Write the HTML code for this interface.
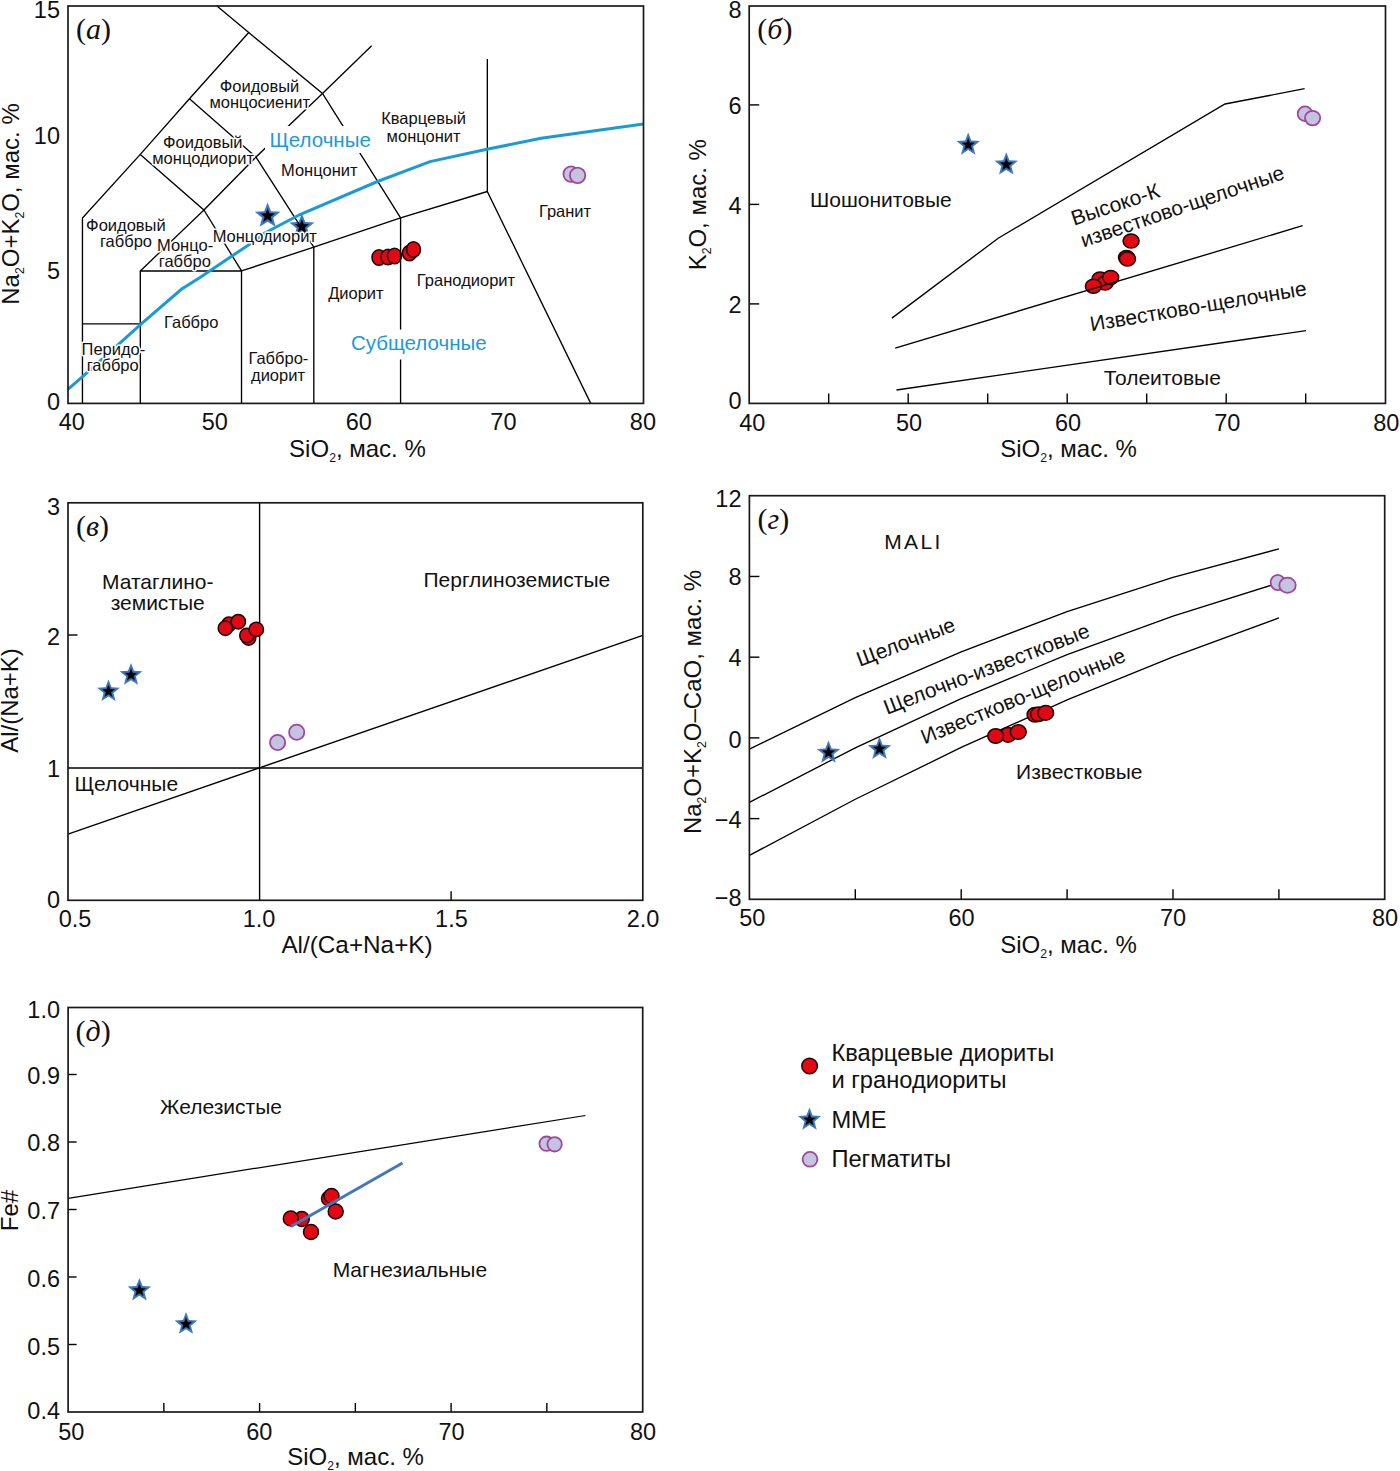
<!DOCTYPE html>
<html><head><meta charset="utf-8"><style>
html,body{margin:0;padding:0;background:#fff;}
svg{display:block;}
</style></head><body>
<svg width="1400" height="1471" viewBox="0 0 1400 1471">
<rect width="1400" height="1471" fill="#fff"/>
<polygon points="267.60,202.40 271.01,211.20 280.44,211.73 273.12,217.69 275.54,226.82 267.60,221.71 259.66,226.82 262.08,217.69 254.76,211.73 264.19,211.20" fill="#4078be"/>
<polygon points="267.60,207.53 269.72,212.99 275.56,213.31 271.02,217.01 272.52,222.67 267.60,219.50 262.68,222.67 264.18,217.01 259.64,213.31 265.48,212.99" fill="#22426f"/>
<polygon points="267.60,209.15 269.31,213.55 274.02,213.81 270.36,216.80 271.57,221.36 267.60,218.80 263.63,221.36 264.84,216.80 261.18,213.81 265.89,213.55" fill="#000"/>
<polygon points="301.90,213.40 305.24,222.01 314.45,222.52 307.30,228.35 309.66,237.28 301.90,232.28 294.14,237.28 296.50,228.35 289.35,222.52 298.56,222.01" fill="#4078be"/>
<polygon points="301.90,218.42 303.97,223.75 309.68,224.07 305.25,227.69 306.71,233.22 301.90,230.12 297.09,233.22 298.55,227.69 294.12,224.07 299.83,223.75" fill="#22426f"/>
<polygon points="301.90,220.00 303.57,224.30 308.18,224.56 304.60,227.48 305.78,231.94 301.90,229.44 298.02,231.94 299.20,227.48 295.62,224.56 300.23,224.30" fill="#000"/>
<ellipse cx="379.00" cy="257.50" rx="7.0" ry="7.7" fill="#e30613" stroke="#1c0404" stroke-width="1.5"/>
<ellipse cx="388.00" cy="257.00" rx="7.0" ry="7.7" fill="#e30613" stroke="#1c0404" stroke-width="1.5"/>
<ellipse cx="394.50" cy="256.00" rx="7.0" ry="7.7" fill="#e30613" stroke="#1c0404" stroke-width="1.5"/>
<ellipse cx="409.50" cy="253.00" rx="7.0" ry="7.7" fill="#e30613" stroke="#1c0404" stroke-width="1.5"/>
<ellipse cx="413.50" cy="249.50" rx="7.0" ry="7.7" fill="#e30613" stroke="#1c0404" stroke-width="1.5"/>
<ellipse cx="571.10" cy="174.10" rx="7.7" ry="7.7" fill="#c4c3e1" stroke="#a0469c" stroke-width="1.8"/>
<ellipse cx="577.60" cy="175.40" rx="7.7" ry="7.7" fill="#c4c3e1" stroke="#a0469c" stroke-width="1.8"/>
<polyline points="82.46,403.40 82.46,217.97 140.30,154.39 189.46,98.76 248.75,32.54" fill="none" stroke="#000" stroke-width="1.35" stroke-linejoin="miter" />
<polyline points="216.94,6.05 248.75,32.54 322.50,93.47 400.58,217.97" fill="none" stroke="#000" stroke-width="1.35" stroke-linejoin="miter" />
<polyline points="189.46,98.76 255.98,157.04 322.50,93.47 371.66,45.79" fill="none" stroke="#000" stroke-width="1.35" stroke-linejoin="miter" />
<polyline points="140.30,154.39 203.92,210.02 255.98,157.04" fill="none" stroke="#000" stroke-width="1.35" stroke-linejoin="miter" />
<polyline points="82.46,323.93 140.30,323.93" fill="none" stroke="#000" stroke-width="1.35" stroke-linejoin="miter" />
<polyline points="140.30,403.40 140.30,270.95 203.92,210.02 241.52,270.95" fill="none" stroke="#000" stroke-width="1.35" stroke-linejoin="miter" />
<polyline points="140.30,270.95 241.52,270.95 241.52,403.40" fill="none" stroke="#000" stroke-width="1.35" stroke-linejoin="miter" />
<polyline points="241.52,270.95 313.82,247.11 400.58,217.97 487.34,191.48" fill="none" stroke="#000" stroke-width="1.35" stroke-linejoin="miter" />
<polyline points="255.98,157.04 313.82,247.11 313.82,403.40" fill="none" stroke="#000" stroke-width="1.35" stroke-linejoin="miter" />
<polyline points="400.58,217.97 400.58,403.40" fill="none" stroke="#000" stroke-width="1.35" stroke-linejoin="miter" />
<polyline points="487.34,59.03 487.34,191.48 590.73,403.40" fill="none" stroke="#000" stroke-width="1.35" stroke-linejoin="miter" />
<polyline points="67.90,389.30 82.90,376.40 140.70,324.30 181.40,289.30 200.00,277.50 232.00,256.00 259.00,238.00 264.00,233.50 300.00,214.50 377.50,181.50 430.00,161.60 487.00,149.30 541.10,138.30 643.50,124.10" fill="none" stroke="#1a9bd7" stroke-width="3" stroke-linejoin="miter" />
<text x="259.5" y="91.7" font-size="16.5" text-anchor="middle" fill="#111" font-family='"Liberation Sans", sans-serif' stroke="#fff" stroke-width="3" paint-order="stroke" stroke-linejoin="round" >Фоидовый</text>
<text x="259.8" y="108" font-size="16.5" text-anchor="middle" fill="#111" font-family='"Liberation Sans", sans-serif' stroke="#fff" stroke-width="3" paint-order="stroke" stroke-linejoin="round" >монцосиенит</text>
<text x="202.8" y="148" font-size="16.5" text-anchor="middle" fill="#111" font-family='"Liberation Sans", sans-serif' stroke="#fff" stroke-width="3" paint-order="stroke" stroke-linejoin="round" >Фоидовый</text>
<text x="203.1" y="164.3" font-size="16.5" text-anchor="middle" fill="#111" font-family='"Liberation Sans", sans-serif' stroke="#fff" stroke-width="3" paint-order="stroke" stroke-linejoin="round" >монцодиорит</text>
<text x="423.6" y="124" font-size="16.5" text-anchor="middle" fill="#111" font-family='"Liberation Sans", sans-serif' stroke="#fff" stroke-width="3" paint-order="stroke" stroke-linejoin="round" >Кварцевый</text>
<text x="423.6" y="141.8" font-size="16.5" text-anchor="middle" fill="#111" font-family='"Liberation Sans", sans-serif' stroke="#fff" stroke-width="3" paint-order="stroke" stroke-linejoin="round" >монцонит</text>
<text x="319.3" y="175.5" font-size="16.5" text-anchor="middle" fill="#111" font-family='"Liberation Sans", sans-serif' stroke="#fff" stroke-width="3" paint-order="stroke" stroke-linejoin="round" >Монцонит</text>
<text x="125.9" y="230.5" font-size="16.5" text-anchor="middle" fill="#111" font-family='"Liberation Sans", sans-serif' stroke="#fff" stroke-width="3" paint-order="stroke" stroke-linejoin="round" >Фоидовый</text>
<text x="126" y="247.4" font-size="16.5" text-anchor="middle" fill="#111" font-family='"Liberation Sans", sans-serif' stroke="#fff" stroke-width="3" paint-order="stroke" stroke-linejoin="round" >габбро</text>
<text x="185.1" y="250.6" font-size="16.5" text-anchor="middle" fill="#111" font-family='"Liberation Sans", sans-serif' stroke="#fff" stroke-width="3" paint-order="stroke" stroke-linejoin="round" >Монцо-</text>
<text x="184.8" y="267.4" font-size="16.5" text-anchor="middle" fill="#111" font-family='"Liberation Sans", sans-serif' stroke="#fff" stroke-width="3" paint-order="stroke" stroke-linejoin="round" >габбро</text>
<text x="264.8" y="242.4" font-size="16.5" text-anchor="middle" fill="#111" font-family='"Liberation Sans", sans-serif' stroke="#fff" stroke-width="3" paint-order="stroke" stroke-linejoin="round" >Монцодиорит</text>
<text x="565" y="217.4" font-size="16.5" text-anchor="middle" fill="#111" font-family='"Liberation Sans", sans-serif' stroke="#fff" stroke-width="3" paint-order="stroke" stroke-linejoin="round" >Гранит</text>
<text x="466" y="286.4" font-size="16.5" text-anchor="middle" fill="#111" font-family='"Liberation Sans", sans-serif' stroke="#fff" stroke-width="3" paint-order="stroke" stroke-linejoin="round" >Гранодиорит</text>
<text x="355.9" y="299.3" font-size="16.5" text-anchor="middle" fill="#111" font-family='"Liberation Sans", sans-serif' stroke="#fff" stroke-width="3" paint-order="stroke" stroke-linejoin="round" >Диорит</text>
<text x="191.2" y="328.2" font-size="16.5" text-anchor="middle" fill="#111" font-family='"Liberation Sans", sans-serif' stroke="#fff" stroke-width="3" paint-order="stroke" stroke-linejoin="round" >Габбро</text>
<text x="113.4" y="354.8" font-size="16.5" text-anchor="middle" fill="#111" font-family='"Liberation Sans", sans-serif' stroke="#fff" stroke-width="3" paint-order="stroke" stroke-linejoin="round" >Перидо-</text>
<text x="112.7" y="371.1" font-size="16.5" text-anchor="middle" fill="#111" font-family='"Liberation Sans", sans-serif' stroke="#fff" stroke-width="3" paint-order="stroke" stroke-linejoin="round" >габбро</text>
<text x="278.4" y="364" font-size="16.5" text-anchor="middle" fill="#111" font-family='"Liberation Sans", sans-serif' stroke="#fff" stroke-width="3" paint-order="stroke" stroke-linejoin="round" >Габбро-</text>
<text x="278" y="380.8" font-size="16.5" text-anchor="middle" fill="#111" font-family='"Liberation Sans", sans-serif' stroke="#fff" stroke-width="3" paint-order="stroke" stroke-linejoin="round" >диорит</text>
<rect x="265" y="126" width="109" height="27" fill="#fff"/>
<rect x="345" y="329.5" width="147" height="30" fill="#fff"/>
<text x="320.2" y="146.6" font-size="20.5" text-anchor="middle" fill="#1a9bd7" font-family='"Liberation Sans", sans-serif' >Щелочные</text>
<text x="418.8" y="350.4" font-size="20.5" text-anchor="middle" fill="#1a9bd7" font-family='"Liberation Sans", sans-serif' >Субщелочные</text>
<rect x="68" y="6" width="575.50" height="397.40" fill="none" stroke="#1a1a1a" stroke-width="1.7"/>
<text x="60" y="18.2" font-size="23.5" text-anchor="end" fill="#111" font-family='"Liberation Sans", sans-serif' >15</text>
<text x="60" y="143.75" font-size="23.5" text-anchor="end" fill="#111" font-family='"Liberation Sans", sans-serif' >10</text>
<text x="60" y="278.75" font-size="23.5" text-anchor="end" fill="#111" font-family='"Liberation Sans", sans-serif' >5</text>
<text x="60" y="409.5" font-size="23.5" text-anchor="end" fill="#111" font-family='"Liberation Sans", sans-serif' >0</text>
<text x="71.85" y="430.3" font-size="23.5" text-anchor="middle" fill="#111" font-family='"Liberation Sans", sans-serif' >40</text>
<text x="214.7" y="430.3" font-size="23.5" text-anchor="middle" fill="#111" font-family='"Liberation Sans", sans-serif' >50</text>
<text x="358.85" y="430.3" font-size="23.5" text-anchor="middle" fill="#111" font-family='"Liberation Sans", sans-serif' >60</text>
<text x="503.4" y="430.3" font-size="23.5" text-anchor="middle" fill="#111" font-family='"Liberation Sans", sans-serif' >70</text>
<text x="642.9" y="430.3" font-size="23.5" text-anchor="middle" fill="#111" font-family='"Liberation Sans", sans-serif' >80</text>
<text x="357.45" y="456.6" font-size="24" text-anchor="middle" fill="#111" font-family='"Liberation Sans", sans-serif' >SiO<tspan font-size="12.2" dy="5">2</tspan><tspan dy="-5">, мас. %</tspan></text>
<text x="19" y="204" font-size="24" text-anchor="middle" fill="#111" font-family='"Liberation Sans", sans-serif' transform="rotate(-90 19 204)" >Na<tspan font-size="12.2" dy="5">2</tspan><tspan dy="-5">O+K</tspan><tspan font-size="12.2" dy="5">2</tspan><tspan dy="-5">O, мас. %</tspan></text>
<text x="76" y="39" font-size="30" text-anchor="start" fill="#111" font-family='"Liberation Serif", serif' >(<tspan font-style="italic">а</tspan>)</text>
<polygon points="968.20,132.50 971.31,140.52 979.90,141.00 973.23,146.43 975.43,154.75 968.20,150.09 960.97,154.75 963.17,146.43 956.50,141.00 965.09,140.52" fill="#4078be"/>
<polygon points="968.20,137.17 970.13,142.15 975.45,142.44 971.32,145.81 972.68,150.97 968.20,148.08 963.72,150.97 965.08,145.81 960.95,142.44 966.27,142.15" fill="#22426f"/>
<polygon points="968.20,138.65 969.75,142.66 974.05,142.90 970.72,145.62 971.81,149.78 968.20,147.44 964.59,149.78 965.68,145.62 962.35,142.90 966.65,142.66" fill="#000"/>
<polygon points="1006.30,152.30 1009.41,160.32 1018.00,160.80 1011.33,166.23 1013.53,174.55 1006.30,169.89 999.07,174.55 1001.27,166.23 994.60,160.80 1003.19,160.32" fill="#4078be"/>
<polygon points="1006.30,156.97 1008.23,161.95 1013.55,162.24 1009.42,165.61 1010.78,170.77 1006.30,167.88 1001.82,170.77 1003.18,165.61 999.05,162.24 1004.37,161.95" fill="#22426f"/>
<polygon points="1006.30,158.45 1007.85,162.46 1012.15,162.70 1008.82,165.42 1009.91,169.58 1006.30,167.24 1002.69,169.58 1003.78,165.42 1000.45,162.70 1004.75,162.46" fill="#000"/>
<ellipse cx="1131.10" cy="241.10" rx="8.0" ry="7.0" fill="#e30613" stroke="#1c0404" stroke-width="1.5"/>
<ellipse cx="1126.50" cy="257.50" rx="8.0" ry="7.0" fill="#e30613" stroke="#1c0404" stroke-width="1.5"/>
<ellipse cx="1127.50" cy="258.90" rx="8.0" ry="7.0" fill="#e30613" stroke="#1c0404" stroke-width="1.5"/>
<ellipse cx="1100.00" cy="279.00" rx="8.0" ry="7.0" fill="#e30613" stroke="#1c0404" stroke-width="1.5"/>
<ellipse cx="1105.10" cy="283.10" rx="8.0" ry="7.0" fill="#e30613" stroke="#1c0404" stroke-width="1.5"/>
<ellipse cx="1110.70" cy="277.50" rx="8.0" ry="7.0" fill="#e30613" stroke="#1c0404" stroke-width="1.5"/>
<ellipse cx="1093.40" cy="286.20" rx="8.0" ry="7.0" fill="#e30613" stroke="#1c0404" stroke-width="1.5"/>
<ellipse cx="1305.00" cy="113.70" rx="7.3" ry="7.3" fill="#c4c3e1" stroke="#a0469c" stroke-width="1.8"/>
<ellipse cx="1312.60" cy="118.10" rx="7.6" ry="7.3" fill="#c4c3e1" stroke="#a0469c" stroke-width="1.8"/>
<polyline points="828.70,403.40 828.70,393.40" fill="none" stroke="#000" stroke-width="1.4" stroke-linejoin="miter" />
<polyline points="908.20,403.40 908.20,393.40" fill="none" stroke="#000" stroke-width="1.4" stroke-linejoin="miter" />
<polyline points="987.70,403.40 987.70,393.40" fill="none" stroke="#000" stroke-width="1.4" stroke-linejoin="miter" />
<polyline points="1067.20,403.40 1067.20,393.40" fill="none" stroke="#000" stroke-width="1.4" stroke-linejoin="miter" />
<polyline points="1146.70,403.40 1146.70,393.40" fill="none" stroke="#000" stroke-width="1.4" stroke-linejoin="miter" />
<polyline points="1226.20,403.40 1226.20,393.40" fill="none" stroke="#000" stroke-width="1.4" stroke-linejoin="miter" />
<polyline points="1305.70,403.40 1305.70,393.40" fill="none" stroke="#000" stroke-width="1.4" stroke-linejoin="miter" />
<polyline points="749.20,303.90 759.20,303.90" fill="none" stroke="#000" stroke-width="1.4" stroke-linejoin="miter" />
<polyline points="749.20,204.40 759.20,204.40" fill="none" stroke="#000" stroke-width="1.4" stroke-linejoin="miter" />
<polyline points="749.20,104.90 759.20,104.90" fill="none" stroke="#000" stroke-width="1.4" stroke-linejoin="miter" />
<polyline points="896.50,390.00 1306.00,330.60" fill="none" stroke="#000" stroke-width="1.35" stroke-linejoin="miter" />
<polyline points="895.20,348.10 1302.60,225.70" fill="none" stroke="#000" stroke-width="1.35" stroke-linejoin="miter" />
<polyline points="891.90,318.10 998.20,238.20 1225.00,104.00 1304.60,88.70" fill="none" stroke="#000" stroke-width="1.35" stroke-linejoin="miter" />
<rect x="749.2" y="6" width="636.30" height="397.40" fill="none" stroke="#1a1a1a" stroke-width="1.7"/>
<text x="741.5" y="17.8" font-size="23.5" text-anchor="end" fill="#111" font-family='"Liberation Sans", sans-serif' >8</text>
<text x="741.5" y="113.7" font-size="23.5" text-anchor="end" fill="#111" font-family='"Liberation Sans", sans-serif' >6</text>
<text x="741.5" y="213.9" font-size="23.5" text-anchor="end" fill="#111" font-family='"Liberation Sans", sans-serif' >4</text>
<text x="741.5" y="313" font-size="23.5" text-anchor="end" fill="#111" font-family='"Liberation Sans", sans-serif' >2</text>
<text x="741.5" y="408.6" font-size="23.5" text-anchor="end" fill="#111" font-family='"Liberation Sans", sans-serif' >0</text>
<text x="752.3" y="431" font-size="23.5" text-anchor="middle" fill="#111" font-family='"Liberation Sans", sans-serif' >40</text>
<text x="909" y="431" font-size="23.5" text-anchor="middle" fill="#111" font-family='"Liberation Sans", sans-serif' >50</text>
<text x="1068" y="431" font-size="23.5" text-anchor="middle" fill="#111" font-family='"Liberation Sans", sans-serif' >60</text>
<text x="1227.2" y="431" font-size="23.5" text-anchor="middle" fill="#111" font-family='"Liberation Sans", sans-serif' >70</text>
<text x="1386.2" y="431" font-size="23.5" text-anchor="middle" fill="#111" font-family='"Liberation Sans", sans-serif' >80</text>
<text x="1068.5" y="456.6" font-size="24" text-anchor="middle" fill="#111" font-family='"Liberation Sans", sans-serif' >SiO<tspan font-size="12.2" dy="5">2</tspan><tspan dy="-5">, мас. %</tspan></text>
<text x="706.5" y="204.7" font-size="24" text-anchor="middle" fill="#111" font-family='"Liberation Sans", sans-serif' transform="rotate(-90 706.5 204.7)" >K<tspan font-size="12.2" dy="5">2</tspan><tspan dy="-5">O, мас. %</tspan></text>
<text x="757.3" y="39" font-size="30" text-anchor="start" fill="#111" font-family='"Liberation Serif", serif' >(<tspan font-style="italic">б</tspan>)</text>
<text x="880.9" y="207.1" font-size="21" text-anchor="middle" fill="#111" font-family='"Liberation Sans", sans-serif' >Шошонитовые</text>
<text x="1162.3" y="384.9" font-size="21" text-anchor="middle" fill="#111" font-family='"Liberation Sans", sans-serif' >Толеитовые</text>
<text x="1091.3" y="331.3" font-size="21" text-anchor="start" fill="#111" font-family='"Liberation Sans", sans-serif' transform="rotate(-9.5 1091.3 331.3)" >Известково-щелочные</text>
<text x="1074" y="225.8" font-size="21" text-anchor="start" fill="#111" font-family='"Liberation Sans", sans-serif' transform="rotate(-18.5 1074 225.8)" >Высоко-К</text>
<text x="1083.5" y="247.5" font-size="20.8" text-anchor="start" fill="#111" font-family='"Liberation Sans", sans-serif' transform="rotate(-18.8 1083.5 247.5)" >известково-щелочные</text>
<polyline points="259.60,502.80 259.60,900.30" fill="none" stroke="#000" stroke-width="1.4" stroke-linejoin="miter" />
<polyline points="68.00,768.00 642.80,768.00" fill="none" stroke="#000" stroke-width="1.4" stroke-linejoin="miter" />
<polyline points="68.00,834.05 642.80,635.30" fill="none" stroke="#000" stroke-width="1.4" stroke-linejoin="miter" />
<polyline points="451.10,900.30 451.10,891.20" fill="none" stroke="#000" stroke-width="1.4" stroke-linejoin="miter" />
<polyline points="68.00,635.00 77.50,635.00" fill="none" stroke="#000" stroke-width="1.4" stroke-linejoin="miter" />
<rect x="68" y="502.8" width="574.80" height="397.50" fill="none" stroke="#1a1a1a" stroke-width="1.7"/>
<text x="60" y="515.2" font-size="23.5" text-anchor="end" fill="#111" font-family='"Liberation Sans", sans-serif' >3</text>
<text x="60" y="644.9" font-size="23.5" text-anchor="end" fill="#111" font-family='"Liberation Sans", sans-serif' >2</text>
<text x="60" y="776.9" font-size="23.5" text-anchor="end" fill="#111" font-family='"Liberation Sans", sans-serif' >1</text>
<text x="60" y="907.7" font-size="23.5" text-anchor="end" fill="#111" font-family='"Liberation Sans", sans-serif' >0</text>
<text x="75" y="927" font-size="23.5" text-anchor="middle" fill="#111" font-family='"Liberation Sans", sans-serif' >0.5</text>
<text x="259.05" y="927" font-size="23.5" text-anchor="middle" fill="#111" font-family='"Liberation Sans", sans-serif' >1.0</text>
<text x="451.45" y="927" font-size="23.5" text-anchor="middle" fill="#111" font-family='"Liberation Sans", sans-serif' >1.5</text>
<text x="643" y="927" font-size="23.5" text-anchor="middle" fill="#111" font-family='"Liberation Sans", sans-serif' >2.0</text>
<text x="357" y="952.9" font-size="24.3" text-anchor="middle" fill="#111" font-family='"Liberation Sans", sans-serif' >Al/(Ca+Na+K)</text>
<text x="18" y="700.5" font-size="24" text-anchor="middle" fill="#111" font-family='"Liberation Sans", sans-serif' transform="rotate(-90 18 700.5)" >Al/(Na+K)</text>
<text x="76" y="536" font-size="30" text-anchor="start" fill="#111" font-family='"Liberation Serif", serif' >(<tspan font-style="italic">в</tspan>)</text>
<text x="157.75" y="588.8" font-size="21" text-anchor="middle" fill="#111" font-family='"Liberation Sans", sans-serif' >Матаглино-</text>
<text x="157.7" y="610.2" font-size="21" text-anchor="middle" fill="#111" font-family='"Liberation Sans", sans-serif' >земистые</text>
<text x="516.85" y="586.7" font-size="21" text-anchor="middle" fill="#111" font-family='"Liberation Sans", sans-serif' >Перглиноземистые</text>
<text x="126.25" y="791.2" font-size="21" text-anchor="middle" fill="#111" font-family='"Liberation Sans", sans-serif' >Щелочные</text>
<polygon points="108.50,679.40 111.53,687.23 119.91,687.69 113.41,692.99 115.55,701.11 108.50,696.56 101.45,701.11 103.59,692.99 97.09,687.69 105.47,687.23" fill="#4078be"/>
<polygon points="108.50,683.96 110.38,688.81 115.58,689.10 111.54,692.39 112.87,697.42 108.50,694.60 104.13,697.42 105.46,692.39 101.42,689.10 106.62,688.81" fill="#22426f"/>
<polygon points="108.50,685.40 110.02,689.31 114.21,689.55 110.95,692.20 112.03,696.25 108.50,693.98 104.97,696.25 106.05,692.20 102.79,689.55 106.98,689.31" fill="#000"/>
<polygon points="131.00,663.00 134.03,670.83 142.41,671.29 135.91,676.59 138.05,684.71 131.00,680.16 123.95,684.71 126.09,676.59 119.59,671.29 127.97,670.83" fill="#4078be"/>
<polygon points="131.00,667.56 132.88,672.41 138.08,672.70 134.04,675.99 135.37,681.02 131.00,678.20 126.63,681.02 127.96,675.99 123.92,672.70 129.12,672.41" fill="#22426f"/>
<polygon points="131.00,669.00 132.52,672.91 136.71,673.15 133.45,675.80 134.53,679.85 131.00,677.58 127.47,679.85 128.55,675.80 125.29,673.15 129.48,672.91" fill="#000"/>
<ellipse cx="228.90" cy="624.30" rx="7.2" ry="7.2" fill="#e30613" stroke="#1c0404" stroke-width="1.5"/>
<ellipse cx="225.40" cy="628.20" rx="7.2" ry="7.2" fill="#e30613" stroke="#1c0404" stroke-width="1.5"/>
<ellipse cx="238.30" cy="621.70" rx="7.2" ry="7.2" fill="#e30613" stroke="#1c0404" stroke-width="1.5"/>
<ellipse cx="248.60" cy="638.00" rx="7.2" ry="7.2" fill="#e30613" stroke="#1c0404" stroke-width="1.5"/>
<ellipse cx="246.90" cy="635.40" rx="7.2" ry="7.2" fill="#e30613" stroke="#1c0404" stroke-width="1.5"/>
<ellipse cx="256.30" cy="629.40" rx="7.2" ry="7.2" fill="#e30613" stroke="#1c0404" stroke-width="1.5"/>
<ellipse cx="277.60" cy="742.50" rx="7.6" ry="7.6" fill="#c4c3e1" stroke="#a0469c" stroke-width="1.8"/>
<ellipse cx="296.70" cy="732.30" rx="7.6" ry="7.6" fill="#c4c3e1" stroke="#a0469c" stroke-width="1.8"/>
<polyline points="855.30,899.30 855.30,889.30" fill="none" stroke="#000" stroke-width="1.4" stroke-linejoin="miter" />
<polyline points="961.20,899.30 961.20,889.30" fill="none" stroke="#000" stroke-width="1.4" stroke-linejoin="miter" />
<polyline points="1067.10,899.30 1067.10,889.30" fill="none" stroke="#000" stroke-width="1.4" stroke-linejoin="miter" />
<polyline points="1173.00,899.30 1173.00,889.30" fill="none" stroke="#000" stroke-width="1.4" stroke-linejoin="miter" />
<polyline points="1278.90,899.30 1278.90,889.30" fill="none" stroke="#000" stroke-width="1.4" stroke-linejoin="miter" />
<polyline points="749.40,818.62 759.40,818.62" fill="none" stroke="#000" stroke-width="1.4" stroke-linejoin="miter" />
<polyline points="749.40,737.90 759.40,737.90" fill="none" stroke="#000" stroke-width="1.4" stroke-linejoin="miter" />
<polyline points="749.40,657.18 759.40,657.18" fill="none" stroke="#000" stroke-width="1.4" stroke-linejoin="miter" />
<polyline points="749.40,576.46 759.40,576.46" fill="none" stroke="#000" stroke-width="1.4" stroke-linejoin="miter" />
<polyline points="749.40,749.20 855.30,697.60 961.20,651.77 1067.10,611.71 1173.00,577.43 1278.90,548.91" fill="none" stroke="#000" stroke-width="1.35" stroke-linejoin="miter" />
<polyline points="749.40,802.38 855.30,747.82 961.20,698.59 1067.10,654.67 1173.00,616.07 1278.90,582.79" fill="none" stroke="#000" stroke-width="1.35" stroke-linejoin="miter" />
<polyline points="749.40,855.35 855.30,799.25 961.20,747.47 1067.10,699.99 1173.00,656.82 1278.90,617.96" fill="none" stroke="#000" stroke-width="1.35" stroke-linejoin="miter" />
<rect x="749.4" y="495.7" width="635.30" height="403.60" fill="none" stroke="#1a1a1a" stroke-width="1.7"/>
<text x="741.5" y="507.1" font-size="23.5" text-anchor="end" fill="#111" font-family='"Liberation Sans", sans-serif' >12</text>
<text x="741.5" y="585.2" font-size="23.5" text-anchor="end" fill="#111" font-family='"Liberation Sans", sans-serif' >8</text>
<text x="741.5" y="665.7" font-size="23.5" text-anchor="end" fill="#111" font-family='"Liberation Sans", sans-serif' >4</text>
<text x="741.5" y="747.9" font-size="23.5" text-anchor="end" fill="#111" font-family='"Liberation Sans", sans-serif' >0</text>
<text x="741.5" y="827.9" font-size="23.5" text-anchor="end" fill="#111" font-family='"Liberation Sans", sans-serif' >−4</text>
<text x="741.5" y="906.1" font-size="23.5" text-anchor="end" fill="#111" font-family='"Liberation Sans", sans-serif' >−8</text>
<text x="752.3" y="926.3" font-size="23.5" text-anchor="middle" fill="#111" font-family='"Liberation Sans", sans-serif' >50</text>
<text x="961.6" y="926.3" font-size="23.5" text-anchor="middle" fill="#111" font-family='"Liberation Sans", sans-serif' >60</text>
<text x="1173.1" y="926.3" font-size="23.5" text-anchor="middle" fill="#111" font-family='"Liberation Sans", sans-serif' >70</text>
<text x="1385" y="926.3" font-size="23.5" text-anchor="middle" fill="#111" font-family='"Liberation Sans", sans-serif' >80</text>
<text x="1068.5" y="952.9" font-size="24" text-anchor="middle" fill="#111" font-family='"Liberation Sans", sans-serif' >SiO<tspan font-size="12.2" dy="5">2</tspan><tspan dy="-5">, мас. %</tspan></text>
<text x="700.6" y="702" font-size="24" text-anchor="middle" fill="#111" font-family='"Liberation Sans", sans-serif' transform="rotate(-90 700.6 702)" >Na<tspan font-size="12.2" dy="5">2</tspan><tspan dy="-5">O+K</tspan><tspan font-size="12.2" dy="5">2</tspan><tspan dy="-5">O–CaO, мас. %</tspan></text>
<text x="757.5" y="528.5" font-size="30" text-anchor="start" fill="#111" font-family='"Liberation Serif", serif' >(<tspan font-style="italic">г</tspan>)</text>
<text x="913.5" y="548.6" font-size="21" text-anchor="middle" fill="#111" font-family='"Liberation Sans", sans-serif' letter-spacing="2.4">MALI</text>
<text x="859.7" y="666.8" font-size="21" text-anchor="start" fill="#111" font-family='"Liberation Sans", sans-serif' transform="rotate(-20.5 859.7 666.8)" >Щелочные</text>
<text x="886.9" y="714.7" font-size="21" text-anchor="start" fill="#111" font-family='"Liberation Sans", sans-serif' transform="rotate(-21 886.9 714.7)" >Щелочно-известковые</text>
<text x="924.5" y="744.6" font-size="21" text-anchor="start" fill="#111" font-family='"Liberation Sans", sans-serif' transform="rotate(-22.5 924.5 744.6)" >Известково-щелочные</text>
<text x="1079.3" y="778.9" font-size="21" text-anchor="middle" fill="#111" font-family='"Liberation Sans", sans-serif' >Известковые</text>
<polygon points="828.50,740.40 831.61,748.42 840.20,748.90 833.53,754.33 835.73,762.65 828.50,757.99 821.27,762.65 823.47,754.33 816.80,748.90 825.39,748.42" fill="#4078be"/>
<polygon points="828.50,745.07 830.43,750.05 835.75,750.34 831.62,753.71 832.98,758.87 828.50,755.98 824.02,758.87 825.38,753.71 821.25,750.34 826.57,750.05" fill="#22426f"/>
<polygon points="828.50,746.55 830.05,750.56 834.35,750.80 831.02,753.52 832.11,757.68 828.50,755.34 824.89,757.68 825.98,753.52 822.65,750.80 826.95,750.56" fill="#000"/>
<polygon points="879.50,736.70 882.61,744.72 891.20,745.20 884.53,750.63 886.73,758.95 879.50,754.29 872.27,758.95 874.47,750.63 867.80,745.20 876.39,744.72" fill="#4078be"/>
<polygon points="879.50,741.37 881.43,746.35 886.75,746.64 882.62,750.01 883.98,755.17 879.50,752.28 875.02,755.17 876.38,750.01 872.25,746.64 877.57,746.35" fill="#22426f"/>
<polygon points="879.50,742.85 881.05,746.86 885.35,747.10 882.02,749.82 883.11,753.98 879.50,751.64 875.89,753.98 876.98,749.82 873.65,747.10 877.95,746.86" fill="#000"/>
<ellipse cx="1008.00" cy="734.90" rx="7.9" ry="7.3" fill="#e30613" stroke="#1c0404" stroke-width="1.5"/>
<ellipse cx="995.70" cy="736.00" rx="7.9" ry="7.3" fill="#e30613" stroke="#1c0404" stroke-width="1.5"/>
<ellipse cx="1018.30" cy="732.00" rx="7.9" ry="7.3" fill="#e30613" stroke="#1c0404" stroke-width="1.5"/>
<ellipse cx="1035.00" cy="714.80" rx="7.9" ry="7.3" fill="#e30613" stroke="#1c0404" stroke-width="1.5"/>
<ellipse cx="1038.50" cy="714.20" rx="7.9" ry="7.3" fill="#e30613" stroke="#1c0404" stroke-width="1.5"/>
<ellipse cx="1045.70" cy="712.90" rx="7.9" ry="7.3" fill="#e30613" stroke="#1c0404" stroke-width="1.5"/>
<ellipse cx="1277.70" cy="582.50" rx="7.1" ry="7.6" fill="#c4c3e1" stroke="#a0469c" stroke-width="1.8"/>
<ellipse cx="1287.50" cy="585.20" rx="8.2" ry="7.6" fill="#c4c3e1" stroke="#a0469c" stroke-width="1.8"/>
<polyline points="163.85,1412.00 163.85,1403.00" fill="none" stroke="#000" stroke-width="1.4" stroke-linejoin="miter" />
<polyline points="259.60,1412.00 259.60,1403.00" fill="none" stroke="#000" stroke-width="1.4" stroke-linejoin="miter" />
<polyline points="355.35,1412.00 355.35,1403.00" fill="none" stroke="#000" stroke-width="1.4" stroke-linejoin="miter" />
<polyline points="451.10,1412.00 451.10,1403.00" fill="none" stroke="#000" stroke-width="1.4" stroke-linejoin="miter" />
<polyline points="546.85,1412.00 546.85,1403.00" fill="none" stroke="#000" stroke-width="1.4" stroke-linejoin="miter" />
<polyline points="68.10,1344.50 76.60,1344.50" fill="none" stroke="#000" stroke-width="1.4" stroke-linejoin="miter" />
<polyline points="68.10,1277.00 76.60,1277.00" fill="none" stroke="#000" stroke-width="1.4" stroke-linejoin="miter" />
<polyline points="68.10,1209.50 76.60,1209.50" fill="none" stroke="#000" stroke-width="1.4" stroke-linejoin="miter" />
<polyline points="68.10,1142.00 76.60,1142.00" fill="none" stroke="#000" stroke-width="1.4" stroke-linejoin="miter" />
<polyline points="68.10,1074.50 76.60,1074.50" fill="none" stroke="#000" stroke-width="1.4" stroke-linejoin="miter" />
<polyline points="68.10,1198.30 585.40,1115.50" fill="none" stroke="#000" stroke-width="1.25" stroke-linejoin="miter" />
<polygon points="139.40,1278.00 142.53,1286.09 151.19,1286.57 144.47,1292.05 146.69,1300.43 139.40,1295.73 132.11,1300.43 134.33,1292.05 127.61,1286.57 136.27,1286.09" fill="#4078be"/>
<polygon points="139.40,1282.71 141.34,1287.73 146.71,1288.02 142.54,1291.42 143.92,1296.62 139.40,1293.71 134.88,1296.62 136.26,1291.42 132.09,1288.02 137.46,1287.73" fill="#22426f"/>
<polygon points="139.40,1284.20 140.97,1288.24 145.30,1288.48 141.94,1291.22 143.04,1295.42 139.40,1293.07 135.76,1295.42 136.86,1291.22 133.50,1288.48 137.83,1288.24" fill="#000"/>
<polygon points="186.00,1312.10 189.03,1319.93 197.41,1320.39 190.91,1325.69 193.05,1333.81 186.00,1329.26 178.95,1333.81 181.09,1325.69 174.59,1320.39 182.97,1319.93" fill="#4078be"/>
<polygon points="186.00,1316.66 187.88,1321.51 193.08,1321.80 189.04,1325.09 190.37,1330.12 186.00,1327.30 181.63,1330.12 182.96,1325.09 178.92,1321.80 184.12,1321.51" fill="#22426f"/>
<polygon points="186.00,1318.10 187.52,1322.01 191.71,1322.25 188.45,1324.90 189.53,1328.95 186.00,1326.68 182.47,1328.95 183.55,1324.90 180.29,1322.25 184.48,1322.01" fill="#000"/>
<ellipse cx="301.80" cy="1219.00" rx="7.5" ry="7.5" fill="#e30613" stroke="#1c0404" stroke-width="1.5"/>
<ellipse cx="290.80" cy="1218.50" rx="7.5" ry="7.5" fill="#e30613" stroke="#1c0404" stroke-width="1.5"/>
<ellipse cx="311.00" cy="1232.00" rx="7.5" ry="7.5" fill="#e30613" stroke="#1c0404" stroke-width="1.5"/>
<ellipse cx="329.00" cy="1198.50" rx="7.5" ry="7.5" fill="#e30613" stroke="#1c0404" stroke-width="1.5"/>
<ellipse cx="331.50" cy="1196.00" rx="7.5" ry="7.5" fill="#e30613" stroke="#1c0404" stroke-width="1.5"/>
<ellipse cx="335.70" cy="1211.50" rx="7.5" ry="7.5" fill="#e30613" stroke="#1c0404" stroke-width="1.5"/>
<polyline points="291.00,1226.50 402.50,1163.00" fill="none" stroke="#4577b8" stroke-width="3" stroke-linejoin="miter" />
<ellipse cx="546.60" cy="1143.70" rx="7.2" ry="7.2" fill="#c4c3e1" stroke="#a0469c" stroke-width="1.8"/>
<ellipse cx="554.60" cy="1144.30" rx="7.2" ry="7.2" fill="#c4c3e1" stroke="#a0469c" stroke-width="1.8"/>
<rect x="68.1" y="1007.5" width="574.60" height="404.50" fill="none" stroke="#1a1a1a" stroke-width="1.7"/>
<text x="60" y="1018.2" font-size="23.5" text-anchor="end" fill="#111" font-family='"Liberation Sans", sans-serif' >1.0</text>
<text x="60" y="1084.1" font-size="23.5" text-anchor="end" fill="#111" font-family='"Liberation Sans", sans-serif' >0.9</text>
<text x="60" y="1151.2" font-size="23.5" text-anchor="end" fill="#111" font-family='"Liberation Sans", sans-serif' >0.8</text>
<text x="60" y="1219" font-size="23.5" text-anchor="end" fill="#111" font-family='"Liberation Sans", sans-serif' >0.7</text>
<text x="60" y="1286.6" font-size="23.5" text-anchor="end" fill="#111" font-family='"Liberation Sans", sans-serif' >0.6</text>
<text x="60" y="1354.7" font-size="23.5" text-anchor="end" fill="#111" font-family='"Liberation Sans", sans-serif' >0.5</text>
<text x="60" y="1419" font-size="23.5" text-anchor="end" fill="#111" font-family='"Liberation Sans", sans-serif' >0.4</text>
<text x="71.35" y="1439.5" font-size="23.5" text-anchor="middle" fill="#111" font-family='"Liberation Sans", sans-serif' >50</text>
<text x="259.3" y="1439.5" font-size="23.5" text-anchor="middle" fill="#111" font-family='"Liberation Sans", sans-serif' >60</text>
<text x="451.5" y="1439.5" font-size="23.5" text-anchor="middle" fill="#111" font-family='"Liberation Sans", sans-serif' >70</text>
<text x="643" y="1439.5" font-size="23.5" text-anchor="middle" fill="#111" font-family='"Liberation Sans", sans-serif' >80</text>
<text x="355.5" y="1464.8" font-size="24" text-anchor="middle" fill="#111" font-family='"Liberation Sans", sans-serif' >SiO<tspan font-size="12.2" dy="5">2</tspan><tspan dy="-5">, мас. %</tspan></text>
<text x="18" y="1210.5" font-size="24" text-anchor="middle" fill="#111" font-family='"Liberation Sans", sans-serif' transform="rotate(-90 18 1210.5)" >Fe#</text>
<text x="75.5" y="1040.5" font-size="30" text-anchor="start" fill="#111" font-family='"Liberation Serif", serif' >(<tspan font-style="italic">д</tspan>)</text>
<text x="221" y="1113.6" font-size="21" text-anchor="middle" fill="#111" font-family='"Liberation Sans", sans-serif' >Железистые</text>
<text x="409.9" y="1276.6" font-size="21" text-anchor="middle" fill="#111" font-family='"Liberation Sans", sans-serif' >Магнезиальные</text>
<ellipse cx="809.60" cy="1066.00" rx="7.8" ry="7.8" fill="#e30613" stroke="#1c0404" stroke-width="1.5"/>
<text x="831.4" y="1061" font-size="23.7" text-anchor="start" fill="#111" font-family='"Liberation Sans", sans-serif' >Кварцевые диориты</text>
<text x="831.4" y="1088.4" font-size="23.7" text-anchor="start" fill="#111" font-family='"Liberation Sans", sans-serif' >и гранодиориты</text>
<polygon points="809.50,1107.60 812.58,1115.56 821.10,1116.03 814.49,1121.42 816.67,1129.67 809.50,1125.05 802.33,1129.67 804.51,1121.42 797.90,1116.03 806.42,1115.56" fill="#4078be"/>
<polygon points="809.50,1112.24 811.41,1117.17 816.69,1117.46 812.59,1120.81 813.95,1125.92 809.50,1123.05 805.05,1125.92 806.41,1120.81 802.31,1117.46 807.59,1117.17" fill="#22426f"/>
<polygon points="809.50,1113.70 811.04,1117.68 815.30,1117.91 811.99,1120.61 813.09,1124.74 809.50,1122.42 805.91,1124.74 807.01,1120.61 803.70,1117.91 807.96,1117.68" fill="#000"/>
<text x="831.4" y="1127.5" font-size="23.7" text-anchor="start" fill="#111" font-family='"Liberation Sans", sans-serif' >ММЕ</text>
<ellipse cx="810.00" cy="1159.30" rx="7.4" ry="7.4" fill="#c4c3e1" stroke="#a0469c" stroke-width="1.8"/>
<text x="831.4" y="1167" font-size="23.7" text-anchor="start" fill="#111" font-family='"Liberation Sans", sans-serif' >Пегматиты</text>
</svg></body></html>
